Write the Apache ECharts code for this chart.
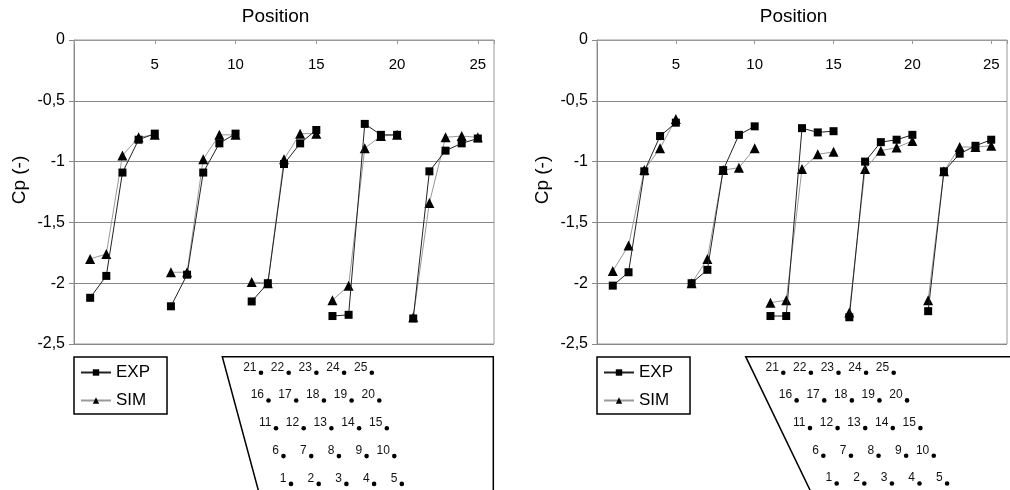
<!DOCTYPE html>
<html><head><meta charset="utf-8">
<script src="https://cdn.jsdelivr.net/npm/echarts@6/dist/echarts.min.js"></script>
<style>html,body{margin:0;padding:0;background:#fff}#c{width:1010px;height:490px}</style>
</head><body><div id="c"></div>
<script>
// ---- data ----
const positions = [1,2,3,4,5,6,7,8,9,10,11,12,13,14,15,16,17,18,19,20,21,22,23,24,25];
const xTickLabels = ['5','10','15','20','25'];
const seriesNames = ['EXP','SIM'];
const leftExp  = [-2.12,-1.94,-1.09,-0.82,-0.77, -2.19,-1.93,-1.09,-0.85,-0.77, -2.15,-2.00,-1.02,-0.85,-0.74, -2.27,-2.26,-0.69,-0.78,-0.78, -2.29,-1.08,-0.91,-0.85,-0.81];
const leftSim  = [-1.80,-1.76,-0.95,-0.80,-0.78, -1.91,-1.91,-0.98,-0.78,-0.78, -1.99,-2.00,-0.98,-0.77,-0.77, -2.14,-2.02,-0.89,-0.79,-0.78, -2.28,-1.34,-0.80,-0.79,-0.80];
const rightExp = [-2.02,-1.91,-1.08,-0.79,-0.68, -2.00,-1.89,-1.07,-0.78,-0.71, -2.27,-2.27,-0.725,-0.76,-0.75, -2.28,-1.00,-0.84,-0.82,-0.78, -2.23,-1.08,-0.935,-0.87,-0.82];
const rightSim = [-1.90,-1.69,-1.07,-0.89,-0.65, -2.00,-1.80,-1.07,-1.05,-0.89, -2.16,-2.14,-1.06,-0.94,-0.92, -2.24,-1.06,-0.91,-0.885,-0.83, -2.14,-1.08,-0.88,-0.88,-0.87];

// ---- build ----
const FONT = '"Liberation Sans", Arial, sans-serif';
const panels = [{exp:leftExp, sim:leftSim}, {exp:rightExp, sim:rightSim}];
const gridLefts = [74, 597];
const styles = {
  EXP: {symbol:'rect', symbolSize:8, line:'#222'},
  SIM: {symbol:'triangle', symbolSize:10, line:'#999'}
};
const series = [];
panels.forEach((p, pi) => {
  [['SIM', p.sim], ['EXP', p.exp]].forEach(([name, vals]) => {
    for (let g = 0; g < 5; g++) {
      const data = positions.slice(g*5, g*5+5).map((x, i) => [x, vals[g*5+i]]);
      series.push({
        type:'line', name, xAxisIndex:pi, yAxisIndex:pi, data,
        symbol:styles[name].symbol, symbolSize:styles[name].symbolSize,
        showAllSymbol:true,
        lineStyle:{color:styles[name].line, width:1},
        itemStyle:{color:'#000'},
        z: name === 'EXP' ? 3 : 2
      });
    }
  });
});

const xAxis = gridLefts.map((_, i) => ({
  gridIndex:i, type:'value', position:'top', min:0, max:26, interval:5,
  name:'Position', nameLocation:'middle', nameGap:14,
  nameTextStyle:{fontSize:19, color:'#000', fontFamily:FONT, padding:[0,17,0,0]},
  axisLine:{lineStyle:{color:'#999', width:1}},
  axisTick:{inside:true, length:4, lineStyle:{color:'#999'}},
  axisLabel:{inside:true, margin:17, fontSize:15, color:'#000', fontFamily:FONT,
    formatter: v => xTickLabels.includes(String(v)) ? String(v) : ''},
  splitLine:{show:false}
}));
const yAxis = gridLefts.map((_, i) => ({
  gridIndex:i, type:'value', min:-2.5, max:0, interval:0.5,
  name:'Cp (-)', nameLocation:'middle', nameGap:45,
  nameTextStyle:{fontSize:19, color:'#000', fontFamily:FONT, padding:[0,0,0,24]},
  axisLine:{show:true, lineStyle:{color:'#888', width:1}},
  axisTick:{show:true, length:5, lineStyle:{color:'#888'}},
  axisLabel:{margin:9, fontSize:16, color:'#000', fontFamily:FONT,
    formatter: v => String(v).replace('.', ',')},
  splitLine:{show:true, lineStyle:{color:'#888', width:1}}
}));

const legend = gridLefts.map(l => ({
  left:l, top:357, orient:'vertical', data:seriesNames,
  itemWidth:30, itemHeight:8, itemGap:11, padding:[7,17,5,6],
  borderColor:'#000', borderWidth:1.5,
  textStyle:{fontSize:17, color:'#000', fontFamily:FONT, lineHeight:17},
  selectedMode:false
}));

// ---- position schematics ----
const graphic = [];
function diagram(outline, x0, y0, rowShift, colStep, rowStep) {
  graphic.push({type:'polyline', shape:{points:outline}, style:{stroke:'#000', lineWidth:1.5, fill:null}});
  for (let r = 0; r < 5; r++) {
    for (let c = 0; c < 5; c++) {
      const n = (4 - r) * 5 + c + 1;
      const x = x0 + r*rowShift + c*colStep, y = y0 + r*rowStep;
      graphic.push({type:'circle', shape:{cx:x, cy:y, r:2.3}, style:{fill:'#000'}});
      graphic.push({type:'text', x:x-4.5, y:y+0.5, style:{text:String(n), fontSize:12, fontFamily:FONT, fill:'#111', align:'right', verticalAlign:'bottom'}});
    }
  }
}
diagram([[259.6,495],[222.3,356.7],[493.3,356.7],[493.3,495]], 261, 372.7, 7.5, 27.7, 27.8);
diagram([[812.4,495],[745.7,356.7],[1015,356.7]], 783.3, 372.7, 13.35, 27.6, 27.7);

const chart = echarts.init(document.getElementById('c'), null, {renderer:'canvas'});
chart.setOption({
  animation:false,
  backgroundColor:'#fff',
  grid: gridLefts.map(l => ({left:l, top:40, width:420, height:304, show:true, borderColor:'#999', borderWidth:1, backgroundColor:'transparent'})),
  xAxis, yAxis, legend, series, graphic
});
</script></body></html>
